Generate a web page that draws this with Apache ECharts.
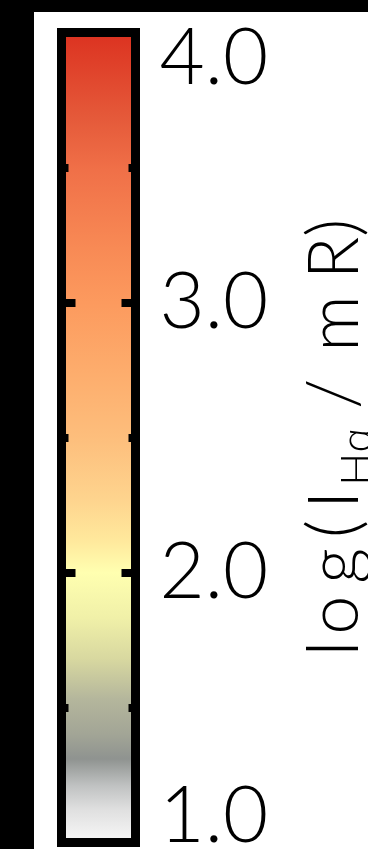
<!DOCTYPE html>
<html>
<head>
<meta charset="utf-8">
<script src="https://cdn.jsdelivr.net/npm/echarts@6/dist/echarts.min.js"></script>
<style>
  html, body { margin: 0; padding: 0; background: #000; width: 368px; height: 849px; overflow: hidden; }
  #chart { position: absolute; left: 34px; top: 12px; width: 334px; height: 837px; background: #fff; }
</style>
</head>
<body>
<div id="chart"></div>
<script>
// Colour bar range (log10 intensity)
const rangeMin = 1.0;
const rangeMax = 4.0;
// Tick labels
const tickValues = [1.0, 2.0, 3.0, 4.0];
const tickLabels = ['1.0', '2.0', '3.0', '4.0'];
// Colour stops (value -> colour)
const stopValues = [4.0, 3.68, 3.49, 3.2, 3.0, 2.75, 2.5, 2.27, 2.12, 2.0, 1.83, 1.68, 1.53, 1.4, 1.31, 1.21, 1.12, 1.0];
const stopColors = ['#dc3220', '#e55a3a', '#f07048', '#f88a55', '#fc9a5e', '#fdac6c', '#fdbe7c', '#fed48e', '#ffe89c', '#ffffb0', '#f0f0a8', '#d8d8a0', '#b4b69c', '#a2a596', '#8f9390', '#c0c2c2', '#e0e0e0', '#f8f8f8'];
// Axis title: log(I_Hα / mR), one rich token per glyph for spacing
const barTitle = '{c0|l}{c1|o}{c2|g}{c3|(}{c4|I}{sub|Hα}{c5|/}{c6|m}{c7|R}{c8|)}';

const chart = echarts.init(document.getElementById('chart'), null, { renderer: 'canvas' });
const stops = stopValues.map((v, i) => ({ offset: (rangeMax - v) / (rangeMax - rangeMin), color: stopColors[i] }));

const frameLine = { color: '#000', width: 9, cap: 'square' };
const fontFam = "Lato, 'DejaVu Sans', sans-serif";
const tfs = 70;
const tokenBase = { fontSize: tfs, fontFamily: fontFam, fontWeight: 300, color: '#000', lineHeight: 120 };
const tok = (l, r) => Object.assign({}, tokenBase, { padding: [0, r, 0, l] });

const yBase = {
  type: 'value', min: rangeMin, max: rangeMax, interval: 1,
  z: 10,
  splitLine: { show: false },
  axisLine: { show: true, onZero: false, lineStyle: frameLine },
  axisTick: { show: true, inside: true, length: 14, lineStyle: { color: '#000', width: 8 } },
  minorTick: { show: true, splitNumber: 2, length: 7, lineStyle: { color: '#000', width: 8 } },
  minorSplitLine: { show: false }
};

chart.setOption({
  animation: false,
  grid: { left: 27.5, top: 20.5, width: 74, height: 810, containLabel: false, outerBoundsMode: 'none' },
  xAxis: [
    { type: 'value', min: 0, max: 1, position: 'bottom', z: 10, axisLine: { show: true, onZero: false, lineStyle: frameLine }, axisTick: { show: false }, axisLabel: { show: false }, splitLine: { show: false } },
    { type: 'value', min: 0, max: 1, position: 'top', z: 10, axisLine: { show: true, onZero: false, lineStyle: frameLine }, axisTick: { show: false }, axisLabel: { show: false }, splitLine: { show: false } }
  ],
  yAxis: [
    Object.assign({}, yBase, { position: 'left', axisLabel: { show: false } }),
    Object.assign({}, yBase, {
      position: 'right',
      axisLabel: {
        show: true, margin: 24, color: '#000', fontSize: 78, lineHeight: 52, fontFamily: fontFam, fontWeight: 300,
        verticalAlignMaxLabel: 'top', verticalAlignMinLabel: 'bottom',
        formatter: (v) => { const i = tickValues.indexOf(v); return i >= 0 ? tickLabels[i] : ''; }
      },
      name: barTitle, nameLocation: 'middle', nameGap: 140, nameRotate: 90,
      nameTextStyle: {
        color: '#000', fontSize: tfs, fontFamily: fontFam, fontWeight: 300, lineHeight: 120,
        rich: {
          c0: tok(0, 0),
          c1: tok(6, 0),
          c2: tok(12, 0),
          c3: tok(10, 0),
          c4: tok(11, 0),
          sub: Object.assign({}, tokenBase, { fontSize: 44, lineHeight: 48, padding: [44, 10, 0, 5] }),
          c5: tok(8, 23),
          c6: tok(4, 4),
          c7: tok(12, 0),
          c8: tok(0, 0)
        }
      }
    })
  ],
  series: [{
    type: 'custom',
    z: 1,
    xAxisIndex: 0, yAxisIndex: 0,
    data: [[rangeMin, rangeMax]],
    encode: { y: [0, 1] },
    renderItem: (params, api) => {
      const pTop = api.coord([0, api.value(1)]);
      const pBot = api.coord([1, api.value(0)]);
      return {
        type: 'rect',
        shape: { x: pTop[0], y: pTop[1], width: pBot[0] - pTop[0], height: pBot[1] - pTop[1] },
        style: { fill: new echarts.graphic.LinearGradient(0, 0, 0, 1, stops) }
      };
    }
  }]
});
</script>
</body>
</html>
